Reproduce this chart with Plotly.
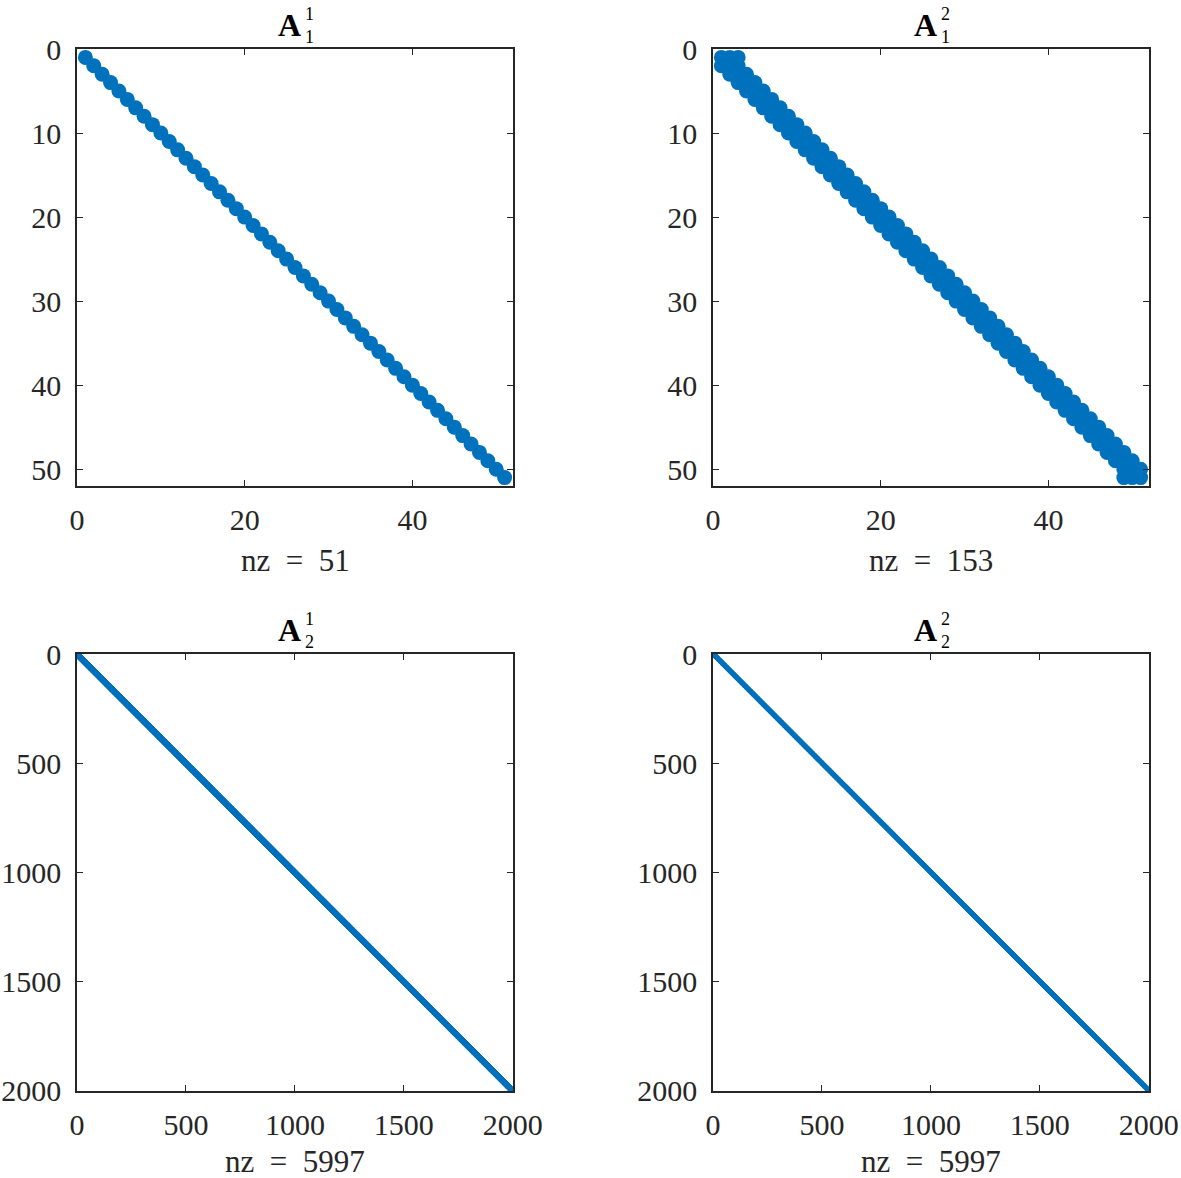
"""Sparsity patterns of four matrices (spy-style plots)."""
import plotly.graph_objects as go

# matrix sizes and their band structure (diagonal offsets col - row)
SIZES = [51, 51, 2000, 2000]
BAND_OFFSETS = [[0], [-1, 0, 1], [-2, -1, 0], [0, 1, 2]]
# A_1^2 uses one-sided stencils on its first and last row
EDGE_ROWS_A12 = {1: [1, 2, 3], 51: [49, 50, 51]}

TITLE_SUB = ["1", "1", "2", "2"]
TITLE_SUP = ["1", "2", "1", "2"]
NZ_VALUES = [51, 153, 5997, 5997]

TOP_TICKS_X = [0, 20, 40]
TOP_TICKS_Y = [0, 10, 20, 30, 40, 50]
BOTTOM_TICKS = [0, 500, 1000, 1500, 2000]

SPY_COLOR = "#0072BD"
AXIS_COLOR = "#262626"
FONT = "Liberation Serif"
W, H = 1181, 1178

# panel boxes in pixels: left, right, top, bottom
BOXES = [(77, 513, 49, 486), (713, 1149, 49, 486),
         (77, 513, 654, 1091), (713, 1149, 654, 1091)]
MARKER_SIZES = [15, 15, 5.5, 4.5]
NZ_SHIFT = [-74, -74, -70, -70]


def pattern(k):
    n = SIZES[k]
    rows, cols = [], []
    for r in range(1, n + 1):
        if k == 1 and r in EDGE_ROWS_A12:
            cs = EDGE_ROWS_A12[r]
        else:
            cs = [r + o for o in BAND_OFFSETS[k] if 1 <= r + o <= n]
        for c in cs:
            rows.append(r)
            cols.append(c)
    return rows, cols


fig = go.Figure()
annotations = []
for k in range(4):
    rows, cols = pattern(k)
    xa = "x" if k == 0 else f"x{k + 1}"
    ya = "y" if k == 0 else f"y{k + 1}"
    fig.add_trace(go.Scatter(
        x=cols, y=rows, mode="markers", xaxis=xa, yaxis=ya,
        marker=dict(color=SPY_COLOR, size=MARKER_SIZES[k], line=dict(width=0)),
        showlegend=False, hoverinfo="skip",
    ))
    l, r, t, b = BOXES[k]
    n = SIZES[k]
    top = k < 2
    xdom = [l / W, r / W]
    ydom = [1 - b / H, 1 - t / H]
    common = dict(
        showline=True, linecolor=AXIS_COLOR, linewidth=1.5, mirror="ticks",
        ticks="inside", ticklen=6, tickwidth=1.2, tickcolor=AXIS_COLOR,
        showgrid=False, zeroline=False, automargin=False,
        tickfont=dict(family=FONT, size=30, color=AXIS_COLOR),
    )
    key = "" if k == 0 else str(k + 1)
    fig.layout["xaxis" + key] = dict(
        common, domain=xdom, anchor=ya, range=[0, n + 1],
        tickvals=TOP_TICKS_X if top else BOTTOM_TICKS,
        ticklabelstandoff=6,
    )
    fig.layout["yaxis" + key] = dict(
        common, domain=ydom, anchor=xa, range=[n + 1, 0],
        tickvals=TOP_TICKS_Y if top else BOTTOM_TICKS,
        ticklabelstandoff=8,
    )
    cx = (xdom[0] + xdom[1]) / 2
    # title: bold A with stacked superscript / subscript
    annotations.append(dict(
        x=cx, y=ydom[1], xref="paper", yref="paper", xanchor="right",
        yanchor="middle", xshift=8, yshift=24, showarrow=False,
        text="<b>A</b>", font=dict(family=FONT, size=32, color="#000000"),
    ))
    annotations.append(dict(
        x=cx, y=ydom[1], xref="paper", yref="paper", xanchor="left",
        yanchor="middle", xshift=8, yshift=24, showarrow=False,
        text=f"{TITLE_SUP[k]}<br>{TITLE_SUB[k]}",
        font=dict(family=FONT, size=18, color="#000000"),
    ))
    annotations.append(dict(
        x=cx, y=ydom[0], xref="paper", yref="paper", xanchor="center",
        yanchor="middle", yshift=NZ_SHIFT[k], showarrow=False,
        text=f"nz&nbsp;&nbsp;=&nbsp;&nbsp;{NZ_VALUES[k]}",
        font=dict(family=FONT, size=31, color=AXIS_COLOR),
    ))

fig.update_layout(
    width=W, height=H, margin=dict(l=0, r=0, t=0, b=0),
    paper_bgcolor="white", plot_bgcolor="white",
    annotations=annotations,
)
# drop the default page margin so the figure sits at the window corner
fig.write_html(
    "out.html",
    config={"displayModeBar": False},
    post_script="document.body.style.margin = '0';",
)
